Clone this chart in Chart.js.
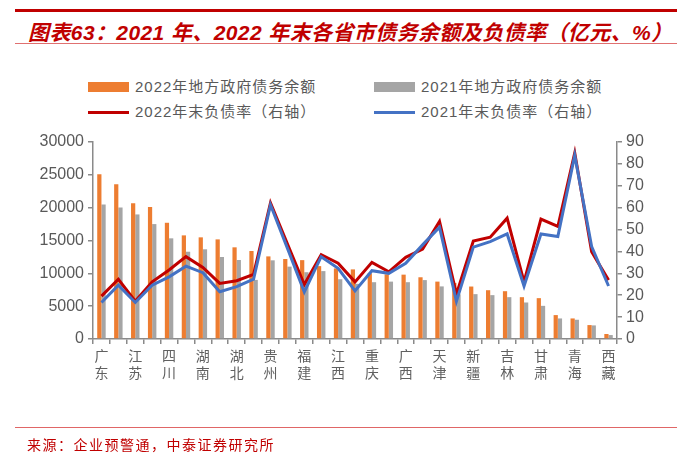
<!DOCTYPE html>
<html><head><meta charset="utf-8">
<script src="https://cdn.jsdelivr.net/npm/chart.js@4.4.1/dist/chart.umd.min.js"></script>
<style>
body{margin:0;width:700px;height:468px;position:relative;background:#fff;overflow:hidden;font-family:"Liberation Sans","Noto Sans CJK SC",sans-serif}
.abs{position:absolute}
#title{left:28px;top:16px;font-size:21px;font-weight:bold;font-style:italic;color:#C00000;white-space:nowrap;letter-spacing:0.4px;font-family:"Liberation Sans","Noto Sans CJK SC",sans-serif}
.lg{font-size:15px;color:#595959;white-space:nowrap;line-height:18px;letter-spacing:1px;font-family:"Liberation Sans","Noto Sans CJK SC",sans-serif}
#src{left:27px;top:434px;font-size:14px;color:#C00000;letter-spacing:1.5px;white-space:nowrap;font-family:"Noto Sans CJK SC",sans-serif}
canvas{position:absolute;left:0;top:0}
</style></head>
<body>
<div class="abs" style="left:15px;top:9px;width:662px;height:3px;background:#C00000"></div>
<div id="title" class="abs">图表63：2021 年、2022 年末各省市债务余额及负债率（亿元、%）</div>
<div class="abs" style="left:15px;top:43px;width:662px;height:1px;background:#E07070"></div>
<div id="legend"></div>
<canvas id="c" width="700" height="468"></canvas>
<div class="abs" style="left:15px;top:427px;width:662px;height:1px;background:#E06666"></div>
<div id="src" class="abs">来源：企业预警通，中泰证券研究所</div>
<script>
const provinces = ['广东','山东','江苏','浙江','四川','河南','湖南','河北','湖北','安徽','贵州','云南','福建','北京','江西','辽宁','重庆','内蒙古','广西','陕西','天津','上海','新疆','山西','吉林','黑龙江','甘肃','海南','青海','宁夏','西藏'];
const debt2022 = [25080,23570,20680,20120,17700,15780,15480,15170,13960,13400,12580,12180,12010,11100,10750,10600,10010,9850,9800,9400,8740,8540,7990,7430,7280,6370,6220,3640,3130,2120,760];
const debt2021 = [20490,20030,18970,17500,15330,13290,13660,12490,12030,9000,11980,11020,10170,10340,9100,8400,8650,8740,8650,8970,8010,6800,6830,6680,6370,5560,5050,3130,2930,2070,600];
const rate2022 = [19.6,27.3,17.3,26.1,31.5,37.6,32.7,25.4,26.6,29.5,62.2,43.5,24.9,38.5,34.6,26.1,35.0,30.7,37.3,41.1,53.7,20.5,44.8,46.5,55.2,26.1,54.8,51.4,85.0,39.9,26.9];
const rate2021 = [16.7,24.6,16.7,24.6,28.4,33.3,30.3,21.6,23.9,27.3,61.3,41.5,21.5,37.6,32.3,22.0,31.2,30.0,34.6,43.0,51.1,17.2,42.0,44.5,48.0,24.2,48.0,46.8,83.9,42.2,24.2];
const seriesNames = ['2022年地方政府债务余额','2021年地方政府债务余额','2022年末负债率（右轴）','2021年末负债率（右轴）'];
const seriesColors = ['#ED7D31','#A5A5A5','#C00000','#4472C4'];
const leftTicks = {min:0,max:30000,step:5000};
const rightTicks = {min:0,max:90,step:10};

// HTML legend built from series
const legendPos = [[88,82,'box'],[374,82,'box'],[88,111,'line'],[374,111,'line']];
const lg = document.getElementById('legend');
seriesNames.forEach((n,i)=>{
  const [x,y,kind] = legendPos[i];
  const m = document.createElement('div');
  m.className='abs';
  m.style.cssText = `left:${x}px;top:${y}px;width:41px;height:${kind==='box'?10:3}px;background:${seriesColors[i]}`;
  lg.appendChild(m);
  const t = document.createElement('div');
  t.className='abs lg';
  t.style.left=(x+47)+'px';
  t.style.top=(kind==='box'? y-4 : y-8)+'px';
  t.textContent=n;
  lg.appendChild(t);
});

const axisColor = '#8A8A8A';
const plain = v => String(v);
new Chart(document.getElementById('c'), {
  type:'bar',
  data:{
    labels:provinces,
    datasets:[
      {type:'line',label:seriesNames[3],data:rate2021,yAxisID:'y1',borderColor:seriesColors[3],borderWidth:3,pointRadius:0,tension:0,order:1},
      {type:'line',label:seriesNames[2],data:rate2022,yAxisID:'y1',borderColor:seriesColors[2],borderWidth:3,pointRadius:0,tension:0,order:2},
      {label:seriesNames[0],data:debt2022,backgroundColor:seriesColors[0],yAxisID:'y',categoryPercentage:0.5,barPercentage:1,order:3},
      {label:seriesNames[1],data:debt2021,backgroundColor:seriesColors[1],yAxisID:'y',categoryPercentage:0.5,barPercentage:1,order:4}
    ]
  },
  options:{
    responsive:false,
    animation:false,
    devicePixelRatio:1,
    layout:{padding:{top:142,left:0,right:0,bottom:0}},
    plugins:{legend:{display:false},tooltip:{enabled:false}},
    scales:{
      x:{
        grid:{display:true,offset:true,drawOnChartArea:false,drawTicks:true,tickLength:5,color:axisColor,lineWidth:1.5},
        border:{display:true,color:axisColor,width:1.5},
        ticks:{autoSkip:false,maxRotation:0,padding:3,color:'#606060',font:{size:14,family:'"Noto Sans CJK SC"',lineHeight:1.2},
          callback:function(v,i){return i%2===0 ? this.getLabelForValue(v).split('') : '';}},
        afterFit:s=>{s.height=129;}
      },
      y:{
        position:'left',min:leftTicks.min,max:leftTicks.max,
        grid:{display:true,drawOnChartArea:false,drawTicks:true,tickLength:5,color:axisColor,lineWidth:1.5},
        border:{display:true,color:axisColor,width:1.5},
        ticks:{stepSize:leftTicks.step,autoSkip:false,padding:4,color:'#595959',font:{size:16,family:'"Liberation Sans"'},callback:plain},
        afterFit:s=>{s.width=93;}
      },
      y1:{
        position:'right',min:rightTicks.min,max:rightTicks.max,
        grid:{display:true,drawOnChartArea:false,drawTicks:true,tickLength:5,color:axisColor,lineWidth:1.5},
        border:{display:true,color:axisColor,width:1.5},
        ticks:{stepSize:rightTicks.step,autoSkip:false,padding:4,color:'#595959',font:{size:16,family:'"Liberation Sans"'},callback:plain},
        afterFit:s=>{s.width=83;}
      }
    }
  }
});
</script>
</body></html>
